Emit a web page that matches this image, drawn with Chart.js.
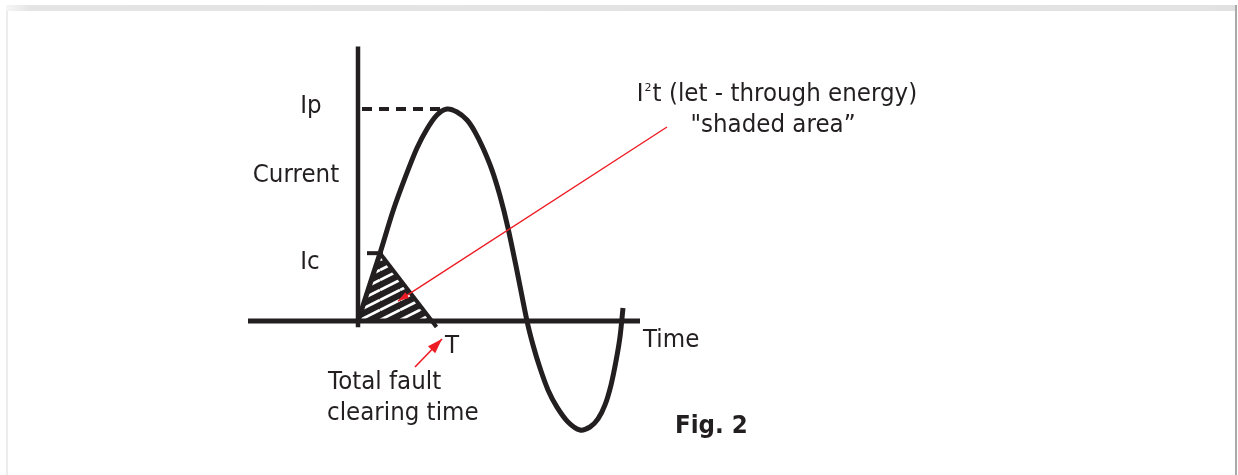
<!DOCTYPE html>
<html>
<head>
<meta charset="utf-8">
<title>Fig. 2 - I2t let-through energy</title>
<script src="https://cdn.jsdelivr.net/npm/chart.js@4.4.1/dist/chart.umd.min.js"></script>
<style>
    html, body { margin: 0; padding: 0; background: #fff; }
    body { width: 1238px; height: 475px; overflow: hidden; position: relative; }
    .frame-top { position: absolute; left: 6px; top: 5px; width: 1230px; height: 6px;
                 background: linear-gradient(to right, #f6f6f6, #e4e4e4 2%, #e2e2e2 98%, #e0e0e0); }
    .frame-left { position: absolute; left: 6px; top: 11px; width: 2px; height: 464px; background: #ececec; }
    .frame-right { position: absolute; left: 1235px; top: 5px; width: 2px; height: 470px; background: #a9a9a9; }
    #fig { position: absolute; left: 0; top: 0; }
</style>
</head>
<body>
<div class="frame-top"></div>
<div class="frame-left"></div>
<div class="frame-right"></div>
<canvas id="fig" width="1238" height="475"></canvas>

<script>
// ---- data (time in arbitrary units, current with Ip = 10) ----
const waveT = [0, 1.0, 2.2, 3.5, 4.7, 5.9, 6.9, 7.9, 8.9, 9.9, 10.9, 11.7, 12.5, 13.4, 14.2, 15.0,
               15.9, 16.9, 17.5, 18.2, 19.0, 19.9, 21.0, 22.2, 23.2, 24.0, 24.7, 25.3, 25.8, 26.2, 26.5];
const waveI = [0, 1.46, 3.2, 5.19, 6.75, 8.16, 9.06, 9.72, 10.0, 9.86, 9.48, 8.92, 8.16, 7.12, 5.9, 4.39,
               2.36, 0, -1.13, -2.22, -3.25, -4.06, -4.76, -5.14, -5.0, -4.62, -3.96, -3.02, -1.89, -0.75, 0.61];

const Ip = 10;        // peak let-through current
const Ic = 3.2;       // cut-off current
const tIc = 2.2;      // time at cut-off
const tPeak = 8.9;
const tClear = 7.4;   // total fault clearing time T
const tClearEnd = 7.85, iClearEnd = -0.28;   // clearing line runs a little past the axis

const timeAxis = [-11, 28.2];
const currentAxis = [-0.3, 12.95];

const pointerFrom = [30.9, 9.15], pointerTo = [4.0, 0.94];
const tArrowFrom = [5.7, -2.17], tArrowTo = [8.4, -0.85];

// text, anchored in data units
const notes = [
    { text: 'Ip', t: -4.7, i: 9.81, align: 'center' },
    { text: 'Current', t: -6.2, i: 6.56, align: 'center' },
    { text: 'Ic', t: -4.8, i: 2.45, align: 'center' },
    { text: 'T', t: 9.4, i: -1.51, align: 'center' },
    { text: 'Time', t: 28.5, i: -1.23, align: 'left' },
    { text: 'Total fault', t: -3.0, i: -3.21, align: 'left' },
    { text: 'clearing time', t: -3.1, i: -4.67, align: 'left' },
    { text: '"shaded area\u201D', t: 41.5, i: 8.92, align: 'center' },
    { text: 'Fig. 2', t: 31.7, i: -5.28, align: 'left', bold: true }
];
const energyNote = { t: 41.9, i: 10.38 };

const ink = '#231f20';
const red = '#ed1c24';
const FONT = "'DejaVu Sans', Verdana, sans-serif";
const SQUEEZE = 0.92;

const pts = (xs, ys) => xs.map((x, k) => ({ x, y: ys[k] }));

// hatch pattern: dark fill with white "/" stripes
function hatchPattern() {
    const w = 20, h = 10;
    const c = document.createElement('canvas');
    c.width = w; c.height = h;
    const g = c.getContext('2d');
    g.fillStyle = ink;
    g.fillRect(0, 0, w, h);
    g.strokeStyle = '#fff';
    g.lineWidth = 2.8;
    [-h, 0, h].forEach(off => {
        g.beginPath();
        g.moveTo(0, h + off);
        g.lineTo(w, off);
        g.stroke();
    });
    const ctx = document.getElementById('fig').getContext('2d');
    return ctx.createPattern(c, 'repeat');
}

// arrow heads on datasets flagged with arrowHead
const arrowPlugin = {
    id: 'arrowHeads',
    afterDatasetsDraw(chart) {
        const ctx = chart.ctx;
        chart.data.datasets.forEach((ds, k) => {
            if (!ds.arrowHead) return;
            const el = chart.getDatasetMeta(k).data;
            const a = el[el.length - 2], b = el[el.length - 1];
            const ang = Math.atan2(b.y - a.y, b.x - a.x);
            const { len, width } = ds.arrowHead;
            ctx.save();
            ctx.translate(b.x, b.y);
            ctx.rotate(ang);
            ctx.fillStyle = ds.borderColor;
            ctx.beginPath();
            ctx.moveTo(0, 0);
            ctx.lineTo(-len, width / 2);
            ctx.lineTo(-len, -width / 2);
            ctx.closePath();
            ctx.fill();
            ctx.restore();
        });
    }
};

function squeezedText(ctx, text, x, y, align) {
    const w = ctx.measureText(text).width * SQUEEZE;
    let left = x;
    if (align === 'center') left = x - w / 2;
    ctx.save();
    ctx.translate(left, y);
    ctx.scale(SQUEEZE, 1);
    ctx.fillText(text, 0, 0);
    ctx.restore();
    return w;
}

const notesPlugin = {
    id: 'notes',
    afterDatasetsDraw(chart) {
        const ctx = chart.ctx;
        const sx = chart.scales.x, sy = chart.scales.y;
        ctx.save();
        ctx.fillStyle = ink;
        ctx.textBaseline = 'alphabetic';
        ctx.textAlign = 'left';
        notes.forEach(n => {
            ctx.font = (n.bold ? 'bold ' : '') + '25px ' + FONT;
            squeezedText(ctx, n.text, sx.getPixelForValue(n.t), sy.getPixelForValue(n.i), n.align);
        });

        // I²t (let - through energy) with a small raised 2
        const cx = sx.getPixelForValue(energyNote.t), by = sy.getPixelForValue(energyNote.i);
        ctx.font = '25px ' + FONT;
        const wI = ctx.measureText('I').width * SQUEEZE;
        const rest = 't (let - through energy)';
        const wRest = ctx.measureText(rest).width * SQUEEZE;
        ctx.font = '11px ' + FONT;
        const w2 = ctx.measureText('2').width + 2;
        let x = cx - (wI + w2 + wRest) / 2;
        ctx.font = '25px ' + FONT;
        squeezedText(ctx, 'I', x, by, 'left');
        ctx.font = '11px ' + FONT;
        ctx.fillText('2', x + wI + 1, by - 10);
        ctx.font = '25px ' + FONT;
        squeezedText(ctx, rest, x + wI + w2, by, 'left');
        ctx.restore();
    }
};

const line = (data, extra) => Object.assign({
    data, showLine: true, pointRadius: 0, fill: false, tension: 0,
    borderColor: ink, borderCapStyle: 'butt', borderJoinStyle: 'miter'
}, extra);

new Chart(document.getElementById('fig'), {
    type: 'scatter',
    data: {
        datasets: [
            line([{ x: pointerFrom[0], y: pointerFrom[1] }, { x: pointerTo[0], y: pointerTo[1] }],
                 { borderColor: red, borderWidth: 1.4, arrowHead: { len: 11, width: 7 } }),
            line([{ x: tArrowFrom[0], y: tArrowFrom[1] }, { x: tArrowTo[0], y: tArrowTo[1] }],
                 { borderColor: red, borderWidth: 1.6, arrowHead: { len: 15, width: 10 } }),
            line(pts(waveT, waveI), { borderWidth: 5, tension: 0.3, borderJoinStyle: 'round' }),
            line([{ x: 0, y: currentAxis[0] }, { x: 0, y: currentAxis[1] }], { borderWidth: 4.5 }),
            line([{ x: timeAxis[0], y: 0 }, { x: timeAxis[1], y: 0 }], { borderWidth: 5 }),
            line([{ x: 0, y: Ip }, { x: tPeak, y: Ip }], { borderWidth: 4, borderDash: [10, 7], borderDashOffset: -4 }),
            line([{ x: 0.9, y: Ic }, { x: 2.5, y: Ic }], { borderWidth: 4 }),
            line([{ x: tIc, y: Ic }, { x: tClearEnd, y: iClearEnd }], { borderWidth: 4 }),
            line([{ x: 0, y: 0 }, { x: tIc, y: Ic }, { x: tClear, y: 0 }],
                 { borderWidth: 0, fill: 'origin', backgroundColor: hatchPattern() })
        ]
    },
    options: {
        responsive: false,
        animation: false,
        devicePixelRatio: 1,
        layout: { padding: 0 },
        plugins: { legend: { display: false }, tooltip: { enabled: false } },
        scales: {
            x: { type: 'linear', display: false, min: -35.8, max: 88 },
            y: { type: 'linear', display: false, min: -7.264, max: 15.142 }
        }
    },
    plugins: [arrowPlugin, notesPlugin]
});
</script>
</body>
</html>
